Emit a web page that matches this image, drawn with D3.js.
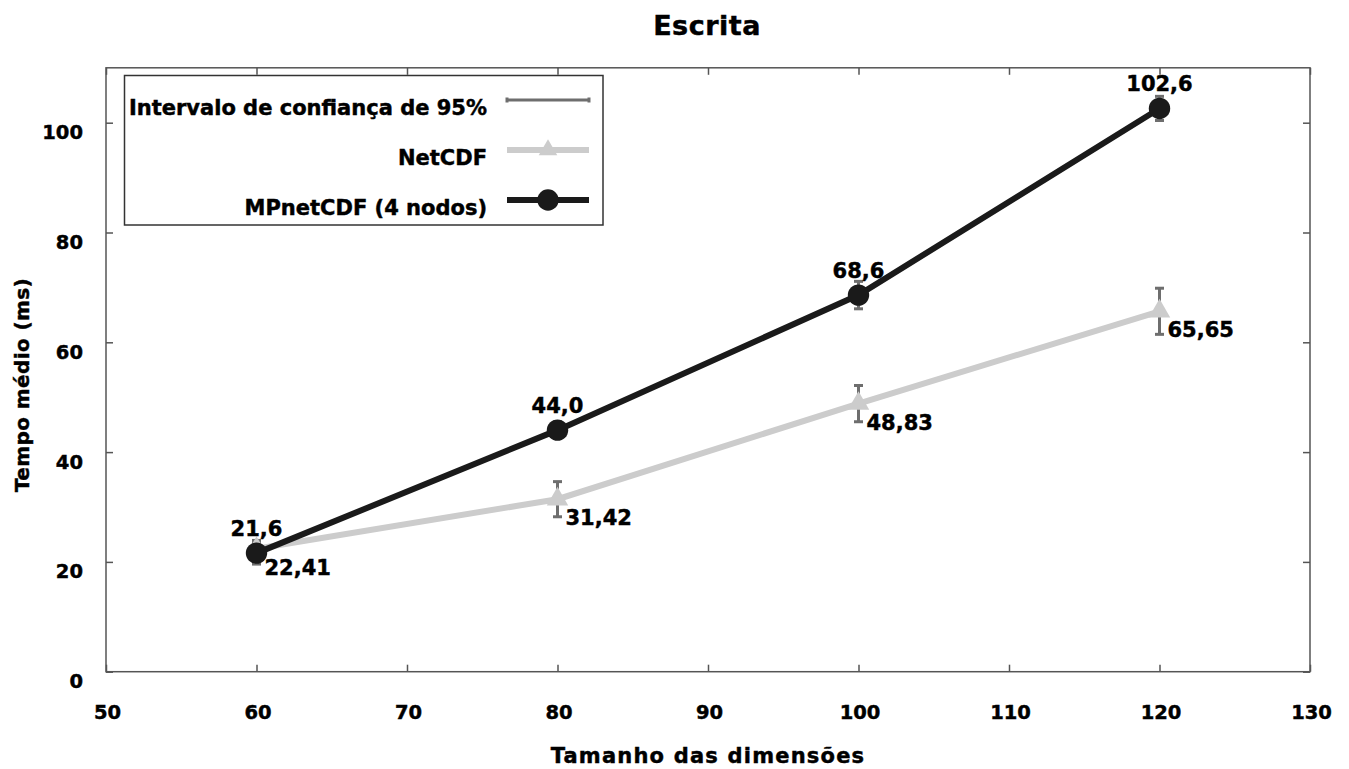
<!DOCTYPE html>
<html>
<head>
	<title>Escrita</title>
	<script type="text/javascript" src="https://cdn.jsdelivr.net/npm/d3@7"></script>
	<meta charset="UTF-8">
</head>
<body>
	<div id="chart"></div>
<script>

// valeurs
const tamanhos = [60, 80, 100, 120];
const netcdf = [22.41, 31.42, 48.83, 65.65];
const netcdfErro = [1.5, 3.2, 3.3, 4.2];
const mpnetcdf = [21.6, 44.0, 68.6, 102.6];
const mpnetcdfErro = [2.0, 1.5, 2.5, 2.2];
const rotulosNetcdf = ["22,41", "31,42", "48,83", "65,65"];
const rotulosMp = ["21,6", "44,0", "68,6", "102,6"];
const xTicks = [50, 60, 70, 80, 90, 100, 110, 120, 130];
const yTicks = [0, 20, 40, 60, 80, 100];
const legenda = ["Intervalo de confiança de 95%", "NetCDF", "MPnetCDF (4 nodos)"];

const W = 1349, H = 769;
const margin = {top: 67.8, right: 39, bottom: 97.3, left: 106};

const x = d3.scaleLinear()
    .domain([50, 130])
    .range([margin.left, W - margin.right]);

const y = d3.scaleLinear()
    .domain([0, 110])
    .range([H - margin.bottom, margin.top]);

const font = "'DejaVu Sans', sans-serif";
const cinzaErro = "#6e6e6e", cinzaClaro = "#cccccc", preto = "#1a1a1a";

const svg = d3.select("#chart").append("svg")
    .attr("width", W)
    .attr("height", H)
    .style("font-family", font)
    .style("font-weight", "bold");

svg.append("rect").attr("width", W).attr("height", H).attr("fill", "#fff");

// axes (ticks vers l'intérieur)
const gx = svg.append("g")
    .attr("transform", "translate(0," + y(0) + ")")
    .call(d3.axisBottom(x).tickValues(xTicks).tickSizeInner(-7).tickSizeOuter(0));
gx.selectAll("text")
    .attr("y", 47).attr("dy", 0).attr("dx", 1)
    .style("font-family", font)
    .style("font-size", "19.5px");

svg.append("g")
    .attr("transform", "translate(0," + y(110) + ")")
    .call(d3.axisTop(x).tickValues(xTicks).tickSizeInner(-7).tickSizeOuter(0).tickFormat(""));

const gy = svg.append("g")
    .attr("transform", "translate(" + x(50) + ",0)")
    .call(d3.axisLeft(y).tickValues(yTicks).tickSizeInner(-7).tickSizeOuter(0));
gy.selectAll("text")
    .attr("x", -23).attr("dy", 16)
    .style("font-family", font)
    .style("font-size", "19.5px");

svg.append("g")
    .attr("transform", "translate(" + x(130) + ",0)")
    .call(d3.axisRight(y).tickValues(yTicks).tickSizeInner(-7).tickSizeOuter(0).tickFormat(""));

svg.selectAll(".domain").remove();
svg.selectAll(".tick line").attr("stroke", "#555").attr("stroke-width", 1.5);

svg.append("rect")
    .attr("x", x(50)).attr("y", y(110))
    .attr("width", x(130) - x(50)).attr("height", y(0) - y(110))
    .attr("fill", "none").attr("stroke", "#555").attr("stroke-width", 1.5);

// titres
svg.append("text")
    .attr("x", (x(50) + x(130)) / 2 - 1).attr("y", 35)
    .attr("text-anchor", "middle")
    .style("font-size", "27px").style("letter-spacing", "0.5px")
    .text("Escrita");

svg.append("text")
    .attr("x", (x(50) + x(130)) / 2).attr("y", 763)
    .attr("text-anchor", "middle")
    .style("font-size", "21px").style("letter-spacing", "1.2px")
    .text("Tamanho das dimensões");

svg.append("text")
    .attr("transform", "translate(29,385) rotate(-90)")
    .attr("text-anchor", "middle")
    .style("font-size", "20px").style("letter-spacing", "0.4px")
    .text("Tempo médio (ms)");

// séries
const dadosNet = tamanhos.map((t, i) => ({x: t, y: netcdf[i], e: netcdfErro[i], r: rotulosNetcdf[i]}));
const dadosMp = tamanhos.map((t, i) => ({x: t, y: mpnetcdf[i], e: mpnetcdfErro[i], r: rotulosMp[i]}));

function barrasErro(dados) {
    const g = svg.append("g").attr("stroke", cinzaErro).attr("stroke-width", 3);
    dados.forEach(function(d) {
        g.append("line")
            .attr("x1", x(d.x)).attr("x2", x(d.x))
            .attr("y1", y(d.y - d.e)).attr("y2", y(d.y + d.e));
        [d.y - d.e, d.y + d.e].forEach(function(v) {
            g.append("line")
                .attr("x1", x(d.x) - 4.5).attr("x2", x(d.x) + 4.5)
                .attr("y1", y(v)).attr("y2", y(v));
        });
    });
}
barrasErro(dadosNet);
barrasErro(dadosMp);

const linha = d3.line().x(d => x(d.x)).y(d => y(d.y));

svg.append("path")
    .datum(dadosNet)
    .attr("d", linha)
    .attr("fill", "none").attr("stroke", cinzaClaro).attr("stroke-width", 6);

svg.selectAll(".tri")
    .data(dadosNet)
  .enter().append("path")
    .attr("class", "tri")
    .attr("transform", d => "translate(" + x(d.x) + "," + y(d.y) + ")")
    .attr("d", d3.symbol(d3.symbolTriangle, 200))
    .attr("fill", cinzaClaro);

svg.append("path")
    .datum(dadosMp)
    .attr("d", linha)
    .attr("fill", "none").attr("stroke", preto).attr("stroke-width", 6);

svg.selectAll(".circ")
    .data(dadosMp)
  .enter().append("path")
    .attr("class", "circ")
    .attr("transform", d => "translate(" + x(d.x) + "," + y(d.y) + ")")
    .attr("d", d3.symbol(d3.symbolCircle, 360))
    .attr("fill", preto);

// étiquettes de valeurs
svg.selectAll(".lblNet")
    .data(dadosNet)
  .enter().append("text")
    .attr("class", "lblNet")
    .attr("x", d => x(d.x) + 8).attr("y", d => y(d.y) + 26)
    .style("font-size", "21px")
    .text(d => d.r);

svg.selectAll(".lblMp")
    .data(dadosMp)
  .enter().append("text")
    .attr("class", "lblMp")
    .attr("x", d => x(d.x)).attr("y", d => y(d.y) - 17)
    .attr("text-anchor", "middle")
    .style("font-size", "21px")
    .text(d => d.r);

// légende
const leg = svg.append("g");
leg.append("rect")
    .attr("x", 124.5).attr("y", 75.5).attr("width", 478.5).attr("height", 149.5)
    .attr("fill", "#fff").attr("stroke", "#333").attr("stroke-width", 1.5);

const legY = [100, 150, 200];
leg.selectAll("text")
    .data(legenda)
  .enter().append("text")
    .attr("x", 487).attr("y", (d, i) => legY[i] + 15)
    .attr("text-anchor", "end")
    .style("font-size", "21px")
    .text(d => d);

leg.append("line")
    .attr("x1", 507).attr("x2", 589).attr("y1", legY[0]).attr("y2", legY[0])
    .attr("stroke", cinzaErro).attr("stroke-width", 3);
[507, 589].forEach(function(cx) {
    leg.append("line")
        .attr("x1", cx).attr("x2", cx).attr("y1", legY[0] - 2.5).attr("y2", legY[0] + 2.5)
        .attr("stroke", cinzaErro).attr("stroke-width", 3);
});

leg.append("line")
    .attr("x1", 507).attr("x2", 589).attr("y1", legY[1]).attr("y2", legY[1])
    .attr("stroke", cinzaClaro).attr("stroke-width", 6);
leg.append("path")
    .attr("transform", "translate(548," + legY[1] + ")")
    .attr("d", d3.symbol(d3.symbolTriangle, 150))
    .attr("fill", cinzaClaro);

leg.append("line")
    .attr("x1", 507).attr("x2", 589).attr("y1", legY[2]).attr("y2", legY[2])
    .attr("stroke", preto).attr("stroke-width", 6);
leg.append("path")
    .attr("transform", "translate(548," + legY[2] + ")")
    .attr("d", d3.symbol(d3.symbolCircle, 360))
    .attr("fill", preto);

// texte un peu plus épais, comme l'original
svg.selectAll("text")
    .style("stroke", "#000")
    .style("stroke-width", "0.45px")
    .style("fill", "#000");

</script>
<style>
body { margin: 0; background: #fff; }
</style>
</body>
</html>
